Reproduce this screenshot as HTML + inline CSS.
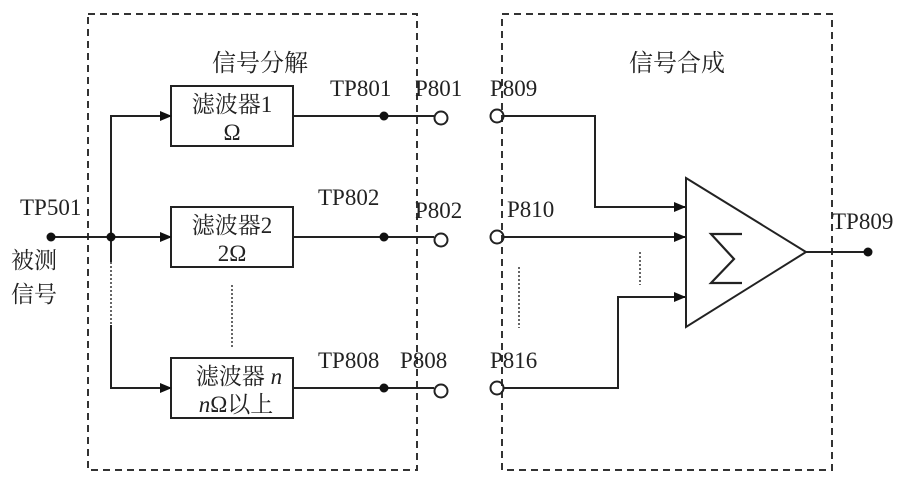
<!DOCTYPE html>
<html><head><meta charset="utf-8"><style>
html,body{margin:0;padding:0;background:#fff;}
svg text{font-family:"Liberation Serif","Noto Serif CJK SC",serif;fill:#222;}
</style></head><body>
<svg width="903" height="478" viewBox="0 0 903 478" xmlns="http://www.w3.org/2000/svg">
<defs><marker id="a" markerWidth="12" markerHeight="10" refX="11" refY="5" orient="auto" markerUnits="userSpaceOnUse"><path d="M0,0 L12,5 L0,10 Z" fill="#111"/></marker></defs>
<g fill="none" stroke="#333" stroke-width="2" stroke-dasharray="7,5">
<rect x="88" y="14" width="329" height="456"/>
<rect x="502" y="14" width="330" height="456"/>
</g>
<g font-size="24" text-anchor="middle">
<text x="260" y="71">信号分解</text>
<text x="677" y="71">信号合成</text>
</g>
<g stroke="#222" stroke-width="2" fill="none">
<rect x="171" y="86" width="122" height="60" fill="#fff"/>
<rect x="171" y="207" width="122" height="60" fill="#fff"/>
<rect x="171" y="358" width="122" height="60" fill="#fff"/>
<line x1="51" y1="237" x2="171" y2="237" marker-end="url(#a)"/>
<polyline points="171,116 111,116 111,262"/>
<polyline points="111,325 111,388 171,388"/>
<line x1="111" y1="116" x2="171" y2="116" marker-end="url(#a)"/>
<line x1="111" y1="388" x2="171" y2="388" marker-end="url(#a)"/>
<line x1="293" y1="116" x2="434" y2="116"/>
<line x1="293" y1="237" x2="434" y2="237"/>
<line x1="293" y1="388" x2="434" y2="388"/>
<circle cx="441" cy="118" r="6.5"/><circle cx="441" cy="240" r="6.5"/><circle cx="441" cy="391" r="6.5"/>
<circle cx="497" cy="116" r="6.5"/><circle cx="497" cy="237" r="6.5"/><circle cx="497" cy="388" r="6.5"/>
<polyline points="504,116 595,116 595,207 685,207" marker-end="url(#a)"/>
<line x1="504" y1="237" x2="685" y2="237" marker-end="url(#a)"/>
<polyline points="504,388 618,388 618,297 685,297" marker-end="url(#a)"/>
<polygon points="686,178 806,252 686,327"/>
<line x1="806" y1="252" x2="868" y2="252"/>
<polyline points="742,234 711,234 734,259 711,283 742,283" stroke-width="2.2"/>
</g>
<g stroke="#333" stroke-width="1.5" stroke-dasharray="2,2">
<line x1="111" y1="262" x2="111" y2="325"/>
<line x1="232" y1="285" x2="232" y2="347"/>
<line x1="519" y1="267" x2="519" y2="328"/>
<line x1="640" y1="252" x2="640" y2="285"/>
</g>
<g fill="#111">
<circle cx="51" cy="237" r="4.5"/><circle cx="111" cy="237" r="4.5"/>
<circle cx="384" cy="116" r="4.5"/><circle cx="384" cy="237" r="4.5"/><circle cx="384" cy="388" r="4.5"/>
<circle cx="868" cy="252" r="4.5"/>
</g>
<g font-size="23">
<text x="232" y="112" text-anchor="middle">滤波器1</text>
<text x="232" y="140" text-anchor="middle">Ω</text>
<text x="232" y="233" text-anchor="middle">滤波器2</text>
<text x="232" y="261" text-anchor="middle">2Ω</text>
<text x="239" y="384" text-anchor="middle">滤波器 <tspan font-style="italic">n</tspan></text>
<text x="236" y="412" text-anchor="middle"><tspan font-style="italic">n</tspan>Ω以上</text>
<text x="330" y="96">TP801</text>
<text x="415" y="96">P801</text>
<text x="318" y="205">TP802</text>
<text x="415" y="218">P802</text>
<text x="318" y="368">TP808</text>
<text x="400" y="368">P808</text>
<text x="20" y="215">TP501</text>
<text x="11" y="268">被测</text>
<text x="11" y="302">信号</text>
<text x="490" y="96">P809</text>
<text x="507" y="217">P810</text>
<text x="490" y="368">P816</text>
<text x="832" y="229">TP809</text>
</g>
</svg>
</body></html>
